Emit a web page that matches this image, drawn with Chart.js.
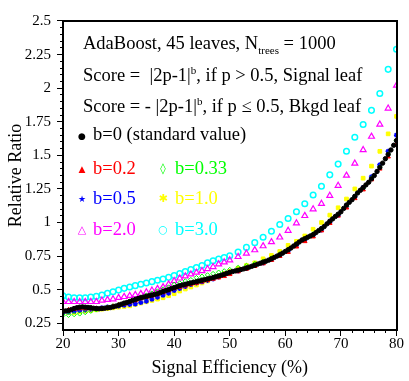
<!DOCTYPE html>
<html>
<head>
<meta charset="utf-8">
<script src="https://cdn.jsdelivr.net/npm/chart.js@4.4.0/dist/chart.umd.min.js"></script>
<style>
  body { margin: 0; background: #fff; }
  #wrap { position: relative; width: 409px; height: 381px; }
  .txt { position: absolute; font-family: "Liberation Serif", serif; white-space: nowrap; line-height: 1; color: #000; font-size: 18.5px; }
  .ann { left: 83px; }
  .mk { position: absolute; width: 14px; text-align: center; font-family: "DejaVu Sans", sans-serif; line-height: 14px; }
  .frame { position: absolute; box-sizing: border-box; border: 2px solid #000; }
  .tk { position: absolute; background: #000; }
  sup, sub { font-size: 11px; line-height: 0; }
</style>
</head>
<body>
<div id="wrap">
  <canvas id="chart" width="409" height="381"></canvas>
  <div class="txt ann" style="top:34px">AdaBoost, 45 leaves, N<sub>trees</sub> = 1000</div>
  <div class="txt ann" style="top:65.5px">Score = &nbsp;|2p-1|<sup>b</sup>, if p &gt; 0.5, Signal leaf</div>
  <div class="txt ann" style="top:96.5px">Score = - |2p-1|<sup>b</sup>, if p ≤ 0.5, Bkgd leaf</div>

  <div class="mk" style="left:75px;top:129px;font-size:9px;color:#000">●</div>
  <div class="txt" style="top:125px;left:93px">b=0 (standard value)</div>
  <div class="mk" style="left:75px;top:162px;font-size:9px;color:#ff0000">▲</div>
  <div class="txt" style="top:158.5px;left:93px;color:#ff0000">b=0.2</div>
  <div class="mk" style="left:156px;top:162px;font-size:11px;color:#00ff00">◊</div>
  <div class="txt" style="top:158.5px;left:175px;color:#00ff00">b=0.33</div>
  <div class="mk" style="left:75px;top:192px;font-size:9px;color:#0000ff">★</div>
  <div class="txt" style="top:188.5px;left:93px;color:#0000ff">b=0.5</div>
  <div class="mk" style="left:156px;top:192px;font-size:11px;color:#ffff00">✱</div>
  <div class="txt" style="top:188.5px;left:175px;color:#ffff00">b=1.0</div>
  <div class="mk" style="left:75px;top:223px;font-size:11px;color:#ff00ff">△</div>
  <div class="txt" style="top:219.5px;left:93px;color:#ff00ff">b=2.0</div>
  <div class="mk" style="left:156px;top:223px;font-size:11px;color:#00ffff">○</div>
  <div class="txt" style="top:219.5px;left:175px;color:#00ffff">b=3.0</div>
</div>
<script>
// signal efficiency (%) for the b=0 points (dense sampling)
const effB0 = [20,20.5,21,21.5,22,22.5,23,23.5,24,24.5,25,25.5,26,26.5,27,27.5,28,28.5,29,29.5,
  30,30.5,31,31.5,32,32.5,33,33.5,34,34.5,35,35.5,36,36.5,37,37.5,38,38.5,39,39.5,
  40,40.5,41,41.5,42,42.5,43,43.5,44,44.5,45,45.5,46,46.5,47,47.5,48,48.5,49,49.5,
  50,50.5,51,51.5,52,52.5,53,53.5,54,54.5,55,55.5,56,56.5,57,57.5,58,58.5,59,59.5,
  60,60.5,61,61.5,62,62.5,63,63.5,64,64.5,65,65.5,66,66.5,67,67.5,68,68.5,69,69.5,
  70,70.5,71,71.5,72,72.5,73,73.5,74,74.5,75,75.5,76,76.5,77,77.5,78,78.5,79,79.5,80];
const ratioB0 = [0.34,0.342,0.345,0.352,0.36,0.366,0.37,0.372,0.37,0.368,0.366,0.362,0.36,0.358,0.36,0.362,0.365,0.367,0.372,0.378,
  0.385,0.392,0.40,0.405,0.412,0.42,0.427,0.434,0.44,0.445,0.45,0.455,0.46,0.465,0.47,0.478,0.486,0.493,0.50,0.508,
  0.515,0.522,0.53,0.535,0.54,0.545,0.55,0.555,0.56,0.565,0.57,0.575,0.58,0.585,0.59,0.596,0.602,0.608,0.615,0.622,
  0.63,0.635,0.64,0.645,0.65,0.655,0.661,0.668,0.675,0.682,0.69,0.697,0.705,0.712,0.72,0.73,0.74,0.75,0.76,0.772,
  0.785,0.797,0.81,0.825,0.84,0.855,0.87,0.88,0.89,0.90,0.91,0.925,0.94,0.955,0.97,0.99,1.01,1.027,1.045,1.062,
  1.08,1.105,1.13,1.15,1.17,1.195,1.22,1.24,1.26,1.28,1.30,1.325,1.35,1.38,1.41,1.442,1.475,1.507,1.54,1.575,1.61];

// signal efficiency (%) for the other b values
const effB = [20,21,22,23,24,25,26,27,28,29,30,31,32,33,34,35,36,37,38,39,40,
  41,42,43,44,45,46,47,48,49,50,51.5,53,54.5,56,57.5,59,60.5,62,63.5,65,
  66.5,68,69.5,71,72.5,74,75.5,77,78.5,80];

const ratioB02 = [0.35,0.35,0.355,0.36,0.36,0.36,0.36,0.36,0.365,0.375,0.385,0.395,0.41,0.42,0.435,0.445,0.455,0.465,0.48,0.495,0.51,
  0.52,0.53,0.54,0.55,0.56,0.57,0.58,0.59,0.60,0.615,0.635,0.655,0.675,0.695,0.72,0.75,0.78,0.82,0.86,0.895,
  0.94,0.995,1.05,1.11,1.18,1.245,1.32,1.40,1.49,1.58];
const ratioB033 = [0.31,0.31,0.315,0.32,0.33,0.34,0.35,0.36,0.37,0.38,0.39,0.40,0.415,0.43,0.445,0.46,0.475,0.49,0.505,0.52,0.54,
  0.55,0.565,0.575,0.59,0.60,0.61,0.62,0.63,0.64,0.65,0.665,0.68,0.695,0.71,0.735,0.765,0.80,0.835,0.875,0.915,
  0.955,1.005,1.06,1.12,1.19,1.255,1.33,1.415,1.51,1.61];
const ratioB05 = [0.33,0.335,0.34,0.345,0.35,0.355,0.36,0.365,0.37,0.375,0.38,0.385,0.39,0.395,0.405,0.415,0.43,0.445,0.46,0.475,0.495,
  0.51,0.525,0.54,0.55,0.56,0.57,0.58,0.595,0.61,0.625,0.64,0.66,0.68,0.70,0.725,0.755,0.79,0.83,0.87,0.905,
  0.945,1.00,1.055,1.12,1.19,1.26,1.34,1.43,1.53,1.65];
const ratioB1 = [0.33,0.33,0.33,0.335,0.34,0.345,0.35,0.355,0.36,0.365,0.37,0.375,0.38,0.39,0.40,0.41,0.42,0.43,0.44,0.455,0.47,
  0.49,0.505,0.52,0.535,0.55,0.565,0.585,0.60,0.62,0.635,0.66,0.68,0.70,0.73,0.755,0.785,0.83,0.86,0.90,0.95,
  1.00,1.055,1.11,1.175,1.25,1.33,1.42,1.53,1.66,1.79];
const ratioB2 = [0.41,0.41,0.41,0.41,0.41,0.41,0.41,0.42,0.425,0.43,0.44,0.447,0.455,0.462,0.47,0.482,0.495,0.507,0.52,0.54,0.565,
  0.585,0.60,0.615,0.628,0.64,0.655,0.67,0.69,0.705,0.72,0.745,0.77,0.795,0.825,0.855,0.89,0.94,0.995,1.05,1.10,
  1.14,1.20,1.275,1.35,1.44,1.54,1.64,1.73,1.85,2.02];
const ratioB3 = [0.455,0.445,0.44,0.44,0.44,0.445,0.45,0.46,0.473,0.485,0.497,0.51,0.52,0.53,0.54,0.55,0.56,0.57,0.58,0.592,0.605,
  0.62,0.635,0.65,0.665,0.68,0.70,0.715,0.728,0.74,0.752,0.78,0.815,0.85,0.89,0.935,0.985,1.03,1.08,1.14,1.205,
  1.27,1.355,1.435,1.53,1.635,1.73,1.835,1.96,2.14,2.29];

const FONT = "'Liberation Serif', serif";

function pts(xs, ys) {
  return xs.map((x, i) => ({ x: x, y: ys[i] }));
}

function serie(xs, ys, color, style, radius, filled, bw) {
  return {
    data: pts(xs, ys),
    pointStyle: style,
    pointRadius: radius,
    pointBorderColor: color,
    pointBackgroundColor: filled ? color : "rgba(0,0,0,0)",
    pointBorderWidth: bw,
    showLine: false,
  };
}

// black first so it is drawn on top
const datasets = [
  serie(effB0, ratioB0, "#000000", "circle", 2.2, true, 1),
  serie(effB, ratioB02, "#ff0000", "triangle", 2.6, true, 1),
  serie(effB, ratioB033, "#00ff00", "rectRot", 2.2, false, 1),
  serie(effB, ratioB05, "#0000ff", "star", 2.6, false, 1.4),
  serie(effB, ratioB1, "#ffff00", "rect", 2.6, true, 1),
  serie(effB, ratioB2, "#ff00ff", "triangle", 3.4, false, 1.2),
  serie(effB, ratioB3, "#00ffff", "circle", 2.8, false, 1.5),
];

const chart = new Chart(document.getElementById("chart"), {
  type: "scatter",
  data: { datasets: datasets },
  options: {
    responsive: false,
    animation: false,
    layout: { padding: { top: 15, right: 12, left: 0, bottom: 0 } },
    plugins: { legend: { display: false }, tooltip: { enabled: false } },
    scales: {
      x: {
        type: "linear",
        min: 20,
        max: 80,
        border: { display: true, color: "#000", width: 2 },
        grid: { display: false, drawTicks: false },
        ticks: {
          stepSize: 10,
          includeBounds: false,
          padding: 5,
          maxRotation: 0,
          color: "#000",
          font: { family: FONT, size: 15 },
        },
        title: {
          display: true,
          text: "Signal Efficiency (%)",
          color: "#000",
          font: { family: FONT, size: 18 },
          padding: { top: 0, bottom: 2 },
        },
        afterFit: (s) => { s.height = 51; },
      },
      y: {
        min: 0.2,
        max: 2.5,
        border: { display: true, color: "#000", width: 2 },
        grid: { display: false, drawTicks: false },
        ticks: {
          stepSize: 0.25,
          includeBounds: false,
          padding: 12,
          color: "#000",
          font: { family: FONT, size: 15 },
          callback: (v) => String(+v.toFixed(2)),
        },
        title: {
          display: true,
          text: "Relative Ratio",
          color: "#000",
          font: { family: FONT, size: 18 },
          padding: { top: 5, bottom: 0 },
        },
        afterFit: (s) => { s.width = 63; },
      },
    },
  },
});

// frame and outward tick marks, placed from the chart's own scales
(function () {
  const wrap = document.getElementById("wrap");
  const a = chart.chartArea;
  const sx = chart.scales.x, sy = chart.scales.y;
  const add = (cls, l, t, w, h) => {
    const d = document.createElement("div");
    d.className = cls;
    d.style.left = Math.round(l) + "px";
    d.style.top = Math.round(t) + "px";
    d.style.width = Math.round(w) + "px";
    d.style.height = Math.round(h) + "px";
    wrap.appendChild(d);
  };
  add("frame", a.left - 1, a.top - 1, a.right - a.left + 2, a.bottom - a.top + 2);
  for (let k = 0; k <= 30; k++) {
    const px = sx.getPixelForValue(20 + k * 2);
    const len = k % 5 === 0 ? 6 : 3;
    add("tk", px - 0.5, a.bottom, 1, len);
  }
  for (let k = 1; k <= 46; k++) {
    const py = sy.getPixelForValue(0.2 + k * 0.05);
    const len = (k - 1) % 5 === 0 ? 6 : 3;
    add("tk", a.left - len, py - 0.5, len, 1);
  }
})();
</script>
</body>
</html>
